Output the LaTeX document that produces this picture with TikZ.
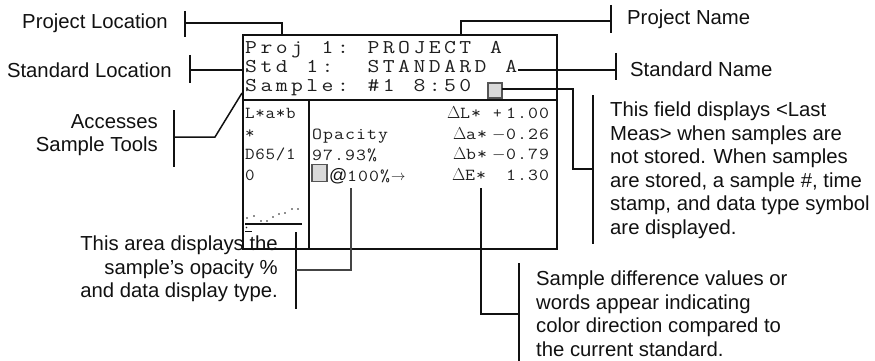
\documentclass[tikz,border=0pt]{standalone}
\usepackage{graphicx}
\usepackage{fontspec}
\newfontfamily\labfont{Liberation Sans}
\definecolor{ink}{HTML}{111111}
\definecolor{lcd}{HTML}{1E1E1E}
\definecolor{sqfill}{HTML}{D9D9D9}
\definecolor{sqedge}{HTML}{555555}
\definecolor{graylink}{HTML}{444444}
% #1 style, #2 name prefix, #3 x, #4 baseline y, #5 advance, #6 characters, #7 horizontal stretch
\newcommand\gridrow[7]{%
  \foreach \ch [count=\k from 0] in {#6} {\node[#1] (#2\k) at ({#3+#5*\k},#4) {\scalebox{#7}[1]{\ch}};}}
\begin{document}
\begin{tikzpicture}[x=1pt,y=-1pt,
  bigmono/.style={anchor=base west,inner sep=0,text=lcd,font=\ttfamily\fontsize{19.5}{19.5}\selectfont},
  smono/.style={anchor=base west,inner sep=0,text=lcd,font=\ttfamily\fontsize{16.8}{16.8}\selectfont},
  lab/.style={inner sep=0,text=ink,font=\labfont\fontsize{20.3}{23.5}\selectfont},
  link/.style={draw=ink,line width=1.5pt},
  sqbox/.style={draw=sqedge,fill=sqfill,line width=1.2pt,minimum width=14pt,minimum height=15pt,inner sep=0},
  frame/.style={draw=ink,line width=2pt}]
\useasboundingbox (0,0) rectangle (875,361);
% screen
\node[frame,minimum width=314pt,minimum height=214pt,inner sep=0,anchor=north west] (screen) at (242,34) {};
\draw[frame] (242,100) -- (556,100);
\draw[frame] (309,100) -- (309,248);
% top rows
\gridrow{bigmono}{ra}{245}{53}{15.3}{P,r,o,j, ,1,:, ,P,R,O,J,E,C,T, ,A}{1.18}
\gridrow{bigmono}{rb}{245}{72.5}{15.3}{S,t,d, ,1,:, , ,S,T,A,N,D,A,R,D, ,A}{1.18}
\gridrow{bigmono}{rc}{245}{92}{15.3}{S,a,m,p,l,e,:, ,\#,1, ,8,:,5,0}{1.18}
\node[sqbox] (sq1) at (495,90.5) {};
% left column
\gridrow{smono}{la}{245}{118}{10.2}{L,*,a,*,b}{1.1}
\gridrow{smono}{lb}{245}{138.5}{10.2}{*}{1.1}
\gridrow{smono}{lc}{245}{159.5}{10.2}{D,6,5,/,1}{1.1}
\gridrow{smono}{ld}{245}{180.5}{10.2}{0}{1.1}
\foreach \p [count=\i] in {(247,218),(254,216),(261,221),(267,221),(273,217),(279,214),(285,213),(292,209),(298,209),(246.5,227.5)}
  \fill[lcd] \p circle (0.8pt);
\draw[ink,line width=1.6pt] (245,224) -- (302,224);
\draw[ink,line width=1.4pt] (245,231.5) -- (252,231.5);
% middle column
\gridrow{smono}{oa}{312}{139}{11}{O,p,a,c,i,t,y}{1.15}
\gridrow{smono}{ob}{312}{160}{11}{9,7,{.},9,3,\%}{1.15}
\node[sqbox,minimum width=15pt,minimum height=17pt] (sq2) at (319.5,173) {};
\node[anchor=base west,inner sep=0,text=ink,font=\labfont\fontsize{18}{18}\selectfont] (atsign) at (329,181) {@};
\gridrow{smono}{oc}{347}{181}{11}{1,0,0,\%}{1.15}
\node[anchor=base west,inner sep=0,text=lcd,font=\fontsize{15}{15}\selectfont] (arr) at (391,180.5) {$\rightarrow$};
% right column
\node[smono] (d1) at (447,118.5) {$\Delta$};
\gridrow{smono}{ka}{460}{118.5}{11}{L,*}{1.15}
\node[smono] (d2) at (453,139) {$\Delta$};
\gridrow{smono}{kb}{466}{139}{11}{a,*}{1.15}
\node[smono] (d3) at (453,159.5) {$\Delta$};
\gridrow{smono}{kc}{466}{159.5}{11}{b,*}{1.15}
\node[smono] (d4) at (452,180) {$\Delta$};
\gridrow{smono}{kd}{465}{180}{11}{E,*}{1.15}
\node[smono] (vap) at (493,118.5) {+};
\gridrow{smono}{va}{506}{118.5}{11}{1,{.},0,0}{1.15}
\node[smono] (vbm) at (492,139) {$-$};
\gridrow{smono}{vb}{506}{139}{11}{0,{.},2,6}{1.15}
\node[smono] (vcm) at (492,159.5) {$-$};
\gridrow{smono}{vc}{506}{159.5}{11}{0,{.},7,9}{1.15}
\gridrow{smono}{vd}{506}{180}{11}{1,{.},3,0}{1.15}
% labels
\node[lab,anchor=east] (plab) at (168,23) {Project Location};
\node[lab,anchor=east] (slab) at (172,70) {Standard Location};
\node[lab,anchor=west] (pname) at (627,19) {Project Name};
\node[lab,anchor=west] (sname) at (630,69) {Standard Name};
\node[lab,anchor=east,align=right] (acc) at (158,135) {Accesses\\Sample Tools};
\node[lab,anchor=west,align=left] (field) at (610,170) {This field displays <Last\\Meas> when samples are\\not stored. When samples\\are stored, a sample \#, time\\stamp, and data type symbol\\are displayed.};
\node[lab,anchor=east,align=right] (area) at (278,269) {This area displays the\\sample’s opacity \%\\and data display type.};
\node[lab,anchor=west,align=left] (diff) at (536,313.5) {Sample difference values or\\words appear indicating\\color direction compared to\\the current standard.};
% connector coordinates
\coordinate (plb1) at (185,11); \coordinate (plb2) at (185,37); \coordinate (plm) at (185,23); \coordinate (plt) at (282,34);
\coordinate (pnb1) at (611,5); \coordinate (pnb2) at (611,33); \coordinate (pnm) at (611,21); \coordinate (pnt) at (461,34);
\coordinate (slb1) at (190,55); \coordinate (slb2) at (190,83); \coordinate (slm) at (190,70); \coordinate (slt) at (242,70);
\coordinate (snb1) at (616,53); \coordinate (snb2) at (616,80); \coordinate (snm) at (616,70); \coordinate (sns) at (518,70);
\coordinate (acb1) at (174,110); \coordinate (acb2) at (174,167); \coordinate (acm) at (174,137); \coordinate (ack) at (215,137); \coordinate (act) at (242,93);
\coordinate (fdb1) at (593,95); \coordinate (fdb2) at (593,244); \coordinate (fdm) at (593,169); \coordinate (fds) at (502,89); \coordinate (fdk) at (573,89);
\coordinate (arb1) at (296,232); \coordinate (arb2) at (296,309); \coordinate (arm) at (296,270); \coordinate (art) at (351,188);
\coordinate (dfb1) at (519,263); \coordinate (dfb2) at (519,361); \coordinate (dfm) at (519,314); \coordinate (dft) at (481,188);
% connectors
\draw[link] (plb1) -- (plb2); \draw[link] (plm) -| (plt);
\draw[link] (pnb1) -- (pnb2); \draw[link] (pnm) -| (pnt);
\draw[link] (slb1) -- (slb2); \draw[link] (slm) -- (slt);
\draw[link] (snb1) -- (snb2); \draw[link] (sns) -- (snm);
\draw[link] (acb1) -- (acb2); \draw[link] (acm) -- (ack) -- (act);
\draw[link] (fdb1) -- (fdb2); \draw[link] (fds) -- (fdk) |- (fdm);
\draw[link] (arb1) -- (arb2); \draw[link,draw=graylink] (arm) -| (art);
\draw[link] (dfb1) -- (dfb2); \draw[link] (dft) |- (dfm);
\end{tikzpicture}
\end{document}
